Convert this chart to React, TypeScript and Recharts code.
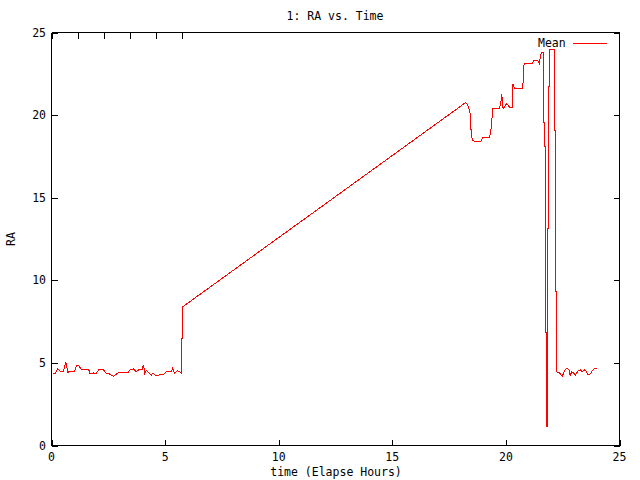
import { LineChart, Line, XAxis, YAxis, Legend } from "recharts";

// elapsed hours and RA
const hours = [
  0.06, 0.18, 0.28, 0.38, 0.53, 0.63, 0.72, 0.82, 1.01, 1.11, 1.2, 1.31, 1.64,
  1.7, 1.85, 1.94, 2.08, 2.29, 2.38, 2.55, 2.73, 2.92, 3.36, 3.46, 3.61, 3.73,
  3.84, 3.99, 4.05, 4.11, 4.17, 4.28, 4.39, 4.46, 4.58, 4.93, 5.05, 5.27, 5.34,
  5.41, 5.56, 5.71, 5.73, 5.77, 18.22, 18.32, 18.43, 18.47, 18.52, 18.65,
  18.88, 18.98, 19.28, 19.35, 19.42, 19.72, 19.79, 19.82, 19.86, 19.91, 20.01,
  20.08, 20.16, 20.28, 20.3, 20.38, 20.74, 20.8, 21.14, 21.23, 21.38, 21.43,
  21.48, 21.52, 21.58, 21.67, 21.68, 21.73, 21.74, 21.77, 21.78, 21.84, 21.85,
  21.89, 21.9, 22.14, 22.15, 22.18, 22.19, 22.23, 22.24, 22.36, 22.48, 22.58,
  22.68, 22.77, 22.83, 22.9, 22.98, 23.06, 23.16, 23.27, 23.36, 23.45, 23.53,
  23.62, 23.71, 23.8, 23.9, 24.0,
];

const ra = [
  4.35, 4.39, 4.65, 4.49, 4.49, 5.05, 4.43, 4.49, 4.49, 4.85, 4.85, 4.59, 4.59,
  4.33, 4.39, 4.33, 4.59, 4.59, 4.39, 4.33, 4.18, 4.39, 4.39, 4.59, 4.63, 4.45,
  4.59, 4.59, 4.89, 4.35, 4.55, 4.39, 4.25, 4.39, 4.25, 4.29, 4.45, 4.45, 4.69,
  4.39, 4.53, 4.39, 5.39, 8.39, 20.75, 20.63, 20.09, 18.98, 18.48, 18.38,
  18.38, 18.64, 18.64, 19.18, 20.39, 20.39, 20.89, 21.3, 20.49, 20.39, 20.69,
  20.63, 20.49, 20.49, 21.9, 21.6, 21.6, 23.11, 23.11, 23.31, 23.31, 23.27,
  23.11, 23.61, 23.77, 23.77, 18.12, 18.12, 6.81, 6.81, 1.17, 1.17, 13.15,
  13.15, 23.96, 23.96, 19.08, 19.08, 9.32, 9.32, 4.45, 4.39, 4.18, 4.53, 4.69,
  4.59, 4.25, 4.45, 4.39, 4.25, 4.49, 4.59, 4.45, 4.59, 4.49, 4.29, 4.33, 4.53,
  4.65, 4.69,
];

const xTicks = [0, 5, 10, 15, 20, 25];
const yTicks = [0, 5, 10, 15, 20, 25];

const data = hours.map((h, i) => ({ hours: h, ra: ra[i] }));

const font = "'DejaVu Sans Mono', monospace";
const fontSize = 11.5;
const axisLine = { stroke: "#000", strokeWidth: 1 };
const TICK = 6;

// snap to the pixel grid so the 1px marks stay crisp like gnuplot's
const px = (v: number) => Math.round(v) + 0.5;

// gnuplot draws its tick marks inside the border
const BottomTick = ({ x, y, payload }: any) => (
  <g>
    <line x1={px(x)} x2={px(x)} y1={y} y2={y - TICK} stroke="#000" strokeWidth={1} />
    <text x={x} y={y + 7} dy="0.71em" textAnchor="middle" fontFamily={font} fontSize={fontSize} fill="#000">
      {payload.value}
    </text>
  </g>
);
const TopTick = ({ x, y }: any) => (
  <line x1={px(x)} x2={px(x)} y1={y} y2={y + TICK} stroke="#000" strokeWidth={1} />
);
const LeftTick = ({ x, y, payload }: any) => (
  <g>
    <line x1={x} x2={x + TICK} y1={px(y)} y2={px(y)} stroke="#000" strokeWidth={1} />
    <text x={x - 5.5} y={y} dy="0.355em" textAnchor="end" fontFamily={font} fontSize={fontSize} fill="#000">
      {payload.value}
    </text>
  </g>
);
const RightTick = ({ x, y }: any) => (
  <line x1={x} x2={x - TICK} y1={px(y)} y2={px(y)} stroke="#000" strokeWidth={1} />
);

const textStyle: React.CSSProperties = {
  position: "absolute",
  fontFamily: font,
  fontSize,
  lineHeight: "12px",
  color: "#000",
  whiteSpace: "nowrap",
};

function MeanLegend({ payload }: any) {
  return (
    <div style={{ display: "flex", alignItems: "center" }}>
      {(payload || []).map((p: any) => (
        <div key={p.value} style={{ display: "flex", alignItems: "center" }}>
          <span style={{ fontFamily: font, fontSize, lineHeight: "12px", color: "#000" }}>{p.value}</span>
          <svg width={42} height={12} style={{ display: "block" }}>
            <line x1={7} x2={41} y1={6.5} y2={6.5} stroke={p.color} strokeWidth={1} />
          </svg>
        </div>
      ))}
    </div>
  );
}

export default function App() {
  return (
    <div
      style={{
        position: "absolute",
        left: 0,
        top: 0,
        width: 640,
        height: 480,
        background: "#fff",
        shapeRendering: "crispEdges",
      }}
    >
      <LineChart
        width={640}
        height={480}
        data={data}
        margin={{ top: 22.5, right: 10.5, bottom: 4.5, left: 11.5 }}
      >
        <XAxis
          dataKey="hours"
          type="number"
          domain={[0, 25]}
          ticks={xTicks}
          height={30}
          tick={<BottomTick />}
          tickLine={false}
          tickSize={0}
          tickMargin={0}
          axisLine={axisLine}
          allowDataOverflow
        />
        <XAxis
          xAxisId="top"
          orientation="top"
          type="number"
          domain={[0, 25]}
          ticks={xTicks}
          height={10}
          tick={<TopTick />}
          tickLine={false}
          tickSize={0}
          tickMargin={0}
          axisLine={axisLine}
          allowDataOverflow
        />
        <YAxis
          type="number"
          domain={[0, 25]}
          ticks={yTicks}
          width={40}
          tick={<LeftTick />}
          tickLine={false}
          tickSize={0}
          tickMargin={0}
          axisLine={axisLine}
          allowDataOverflow
        />
        <YAxis
          yAxisId="right"
          orientation="right"
          type="number"
          domain={[0, 25]}
          ticks={yTicks}
          width={10}
          tick={<RightTick />}
          tickLine={false}
          tickSize={0}
          tickMargin={0}
          axisLine={axisLine}
          allowDataOverflow
        />
        <Legend
          layout="vertical"
          align="center"
          verticalAlign="middle"
          content={<MeanLegend />}
          wrapperStyle={{ top: 36.5, left: 538, width: 90, height: 12 }}
        />
        <Line
          name="Mean"
          type="linear"
          dataKey="ra"
          stroke="#ff0000"
          strokeWidth={1}
          dot={false}
          activeDot={false}
          isAnimationActive={false}
        />
      </LineChart>
      <div style={{ ...textStyle, top: 10, left: 235, width: 200, textAlign: "center" }}>
        1: RA vs. Time
      </div>
      <div style={{ ...textStyle, top: 466, left: 236, width: 200, textAlign: "center" }}>
        time (Elapse Hours)
      </div>
      <svg width={30} height={480} style={{ position: "absolute", left: 0, top: 0 }}>
        <text
          transform="translate(11, 239) rotate(-90)"
          textAnchor="middle"
          dominantBaseline="central"
          fontFamily={font}
          fontSize={fontSize}
          fill="#000"
        >
          RA
        </text>
      </svg>
    </div>
  );
}
